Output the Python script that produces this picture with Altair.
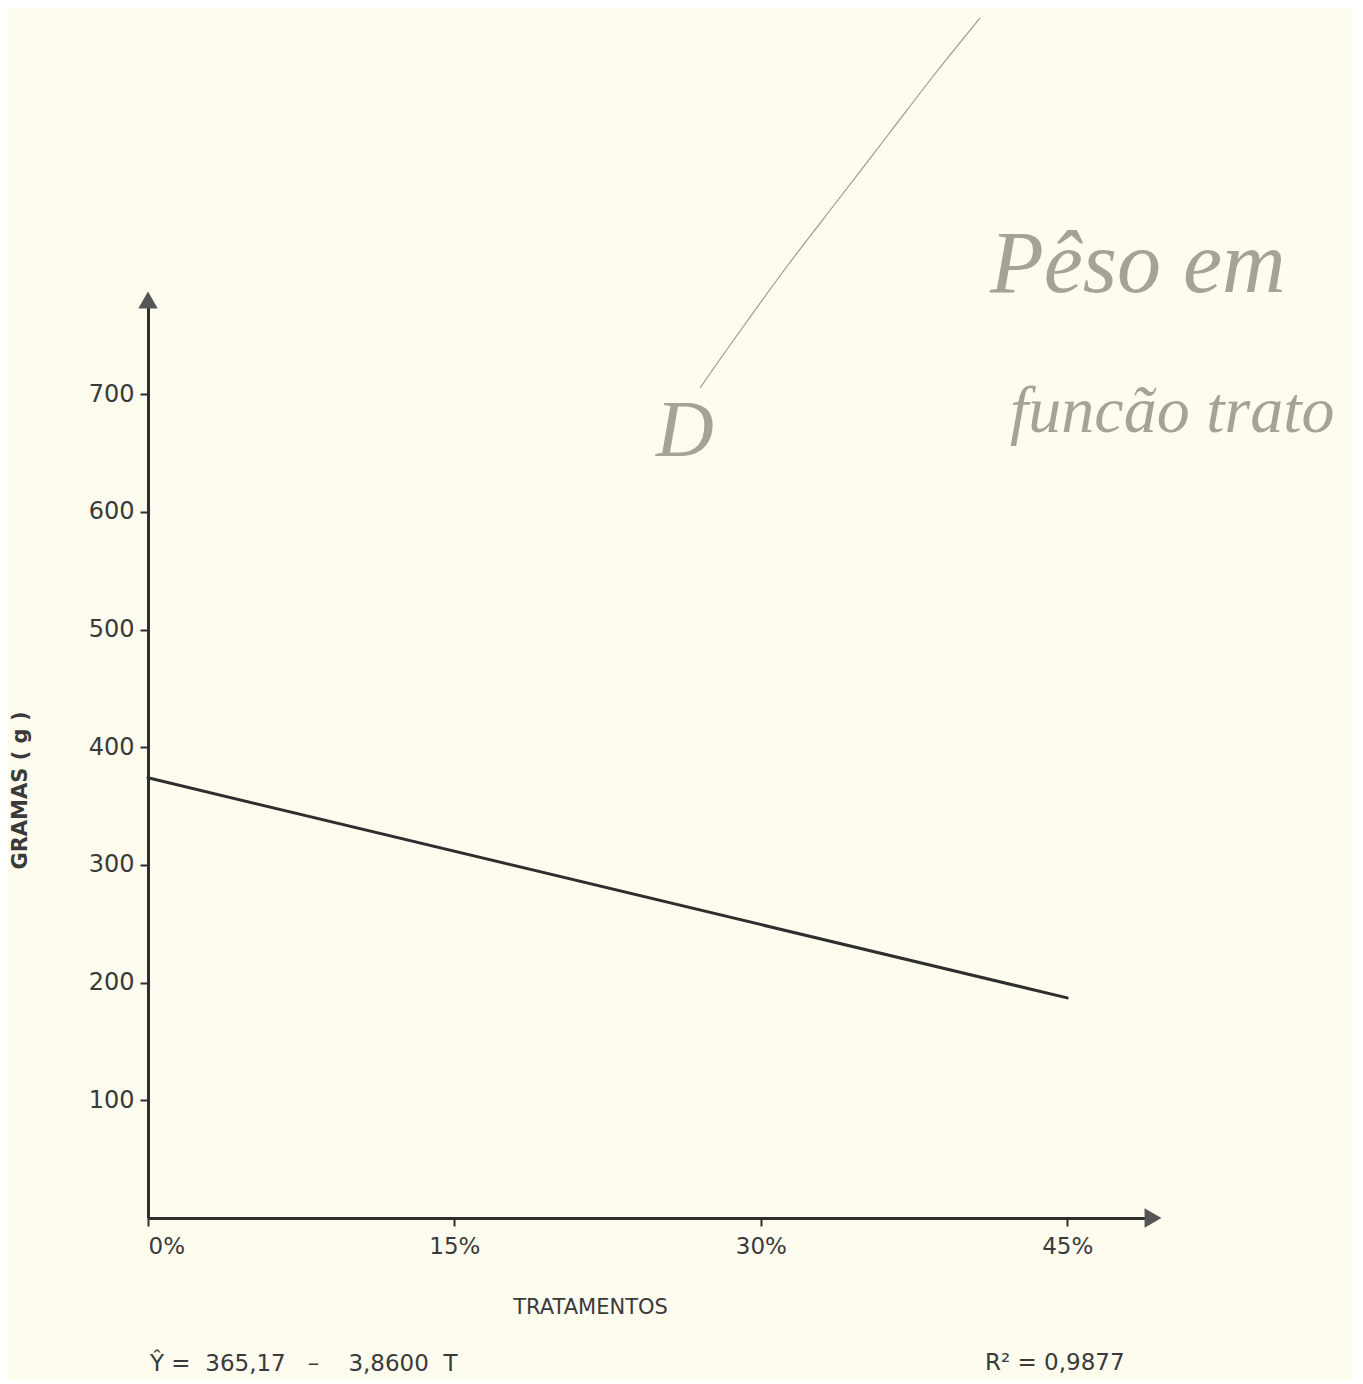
import altair as alt
import pandas as pd

# --- data ---
tratamento = [0, 45]            # % of treatment (T)
gramas = [374, 187]             # fitted weight (g)
x_ticks = [0, 15, 30, 45]
y_ticks = [100, 200, 300, 400, 500, 600, 700]
x_max = 49.2
y_max = 780

NB = "\u00a0"
equacao = f"Ŷ{NB}={NB}{NB}365,17{NB}{NB}{NB}–{NB}{NB}{NB}{NB}3,8600{NB}{NB}T"
r2 = f"R²{NB}={NB}0,9877"

# handwritten note (annotation) and its pen stroke, in plot pixels
nota_linhas = ["Pêso em", "funcão trato"]
traco_x = [552, 575, 600, 640, 690, 740, 790, 832]
traco_y = [88, 55, 20, -35, -100, -165, -230, -282]

W, H = 1005, 918
INK = "#2e2e2e"
TXT = "#3a3a3a"
BG = "#fdfcee"

df = pd.DataFrame({"T": tratamento, "g": gramas})

xs = alt.Scale(domain=[0, x_max], nice=False, zero=False)
ys = alt.Scale(domain=[0, y_max], nice=False)

base = alt.Chart(df)

line = base.mark_line(color=INK, strokeWidth=3, strokeCap="round").encode(
    x=alt.X("T:Q", scale=xs, axis=alt.Axis(
        values=x_ticks, labelExpr="datum.value + '%'", title="TRATAMENTOS",
        titleX=442, titleY=89, titleBaseline="middle", titleAnchor="start",
        titleAlign="center", grid=False, tickSize=8, labelPadding=9,
        labelFontSize=23, labelColor=TXT, titleFontSize=21, titleFontWeight="normal",
        titleColor=TXT, domainColor=INK, domainWidth=3, tickColor=INK, tickWidth=2,
        labelFont="DejaVu Sans", titleFont="DejaVu Sans",
    )),
    y=alt.Y("g:Q", scale=ys, axis=alt.Axis(
        values=y_ticks, title="GRAMAS  ( g )", titleAngle=-90,
        titleX=-128, titleY=490, titleAlign="center", titleBaseline="middle",
        grid=False, tickSize=8, labelPadding=6, labelFontSize=24, labelColor=TXT,
        titleFontSize=21, titleFontWeight="bold", titleColor=TXT,
        domainColor=INK, domainWidth=3, tickColor=INK, tickWidth=2,
        labelFont="DejaVu Sans", titleFont="DejaVu Sans",
    )),
)

arrow_df = pd.DataFrame({"T": [0, x_max], "g": [y_max, 0], "shape": ["triangle-up", "triangle-right"]})
arrows = alt.Chart(arrow_df).mark_point(filled=True, size=380, color="#555555", opacity=1).encode(
    x=alt.X("T:Q", scale=xs), y=alt.Y("g:Q", scale=ys),
    shape=alt.Shape("shape:N", scale=None),
)

eq = alt.Chart(pd.DataFrame({"t": [equacao]})).mark_text(
    align="left", baseline="middle", fontSize=23, color=TXT, font="DejaVu Sans"
).encode(x=alt.value(2), y=alt.value(1064), text="t:N")

r2t = alt.Chart(pd.DataFrame({"t": [r2]})).mark_text(
    align="left", baseline="middle", fontSize=23, color=TXT, font="DejaVu Sans"
).encode(x=alt.value(837), y=alt.value(1063), text="t:N")

hand_style = dict(font="Liberation Serif", fontStyle="italic", fontWeight="normal",
                  color="#a3a397", align="left", baseline="middle")
nota1 = alt.Chart(pd.DataFrame({"t": [nota_linhas[0]]})).mark_text(fontSize=88, **hand_style).encode(
    x=alt.value(842), y=alt.value(-34), text="t:N")
nota2 = alt.Chart(pd.DataFrame({"t": [nota_linhas[1]]})).mark_text(fontSize=66, **hand_style).encode(
    x=alt.value(862), y=alt.value(112), text="t:N")
letraD = alt.Chart(pd.DataFrame({"t": ["D"]})).mark_text(fontSize=80, **hand_style).encode(
    x=alt.value(508), y=alt.value(132), text="t:N")

traco = alt.Chart(pd.DataFrame({"px": traco_x, "py": traco_y, "o": list(range(len(traco_x)))})).mark_line(
    color="#9a9a90", strokeWidth=1.2, clip=False, interpolate="monotone"
).encode(x=alt.X("px:Q", scale=None), y=alt.Y("py:Q", scale=None), order="o:Q")

chart = alt.layer(line, arrows, eq, r2t, nota1, nota2, letraD, traco).properties(
    width=W, height=H, background=BG,
    padding={"left": 140, "top": 292, "right": 200, "bottom": 162},
    autosize=alt.AutoSizeParams(type="none"),
).configure_view(stroke=None)

chart.save("out.html", embed_options={"renderer": "svg", "actions": False})
